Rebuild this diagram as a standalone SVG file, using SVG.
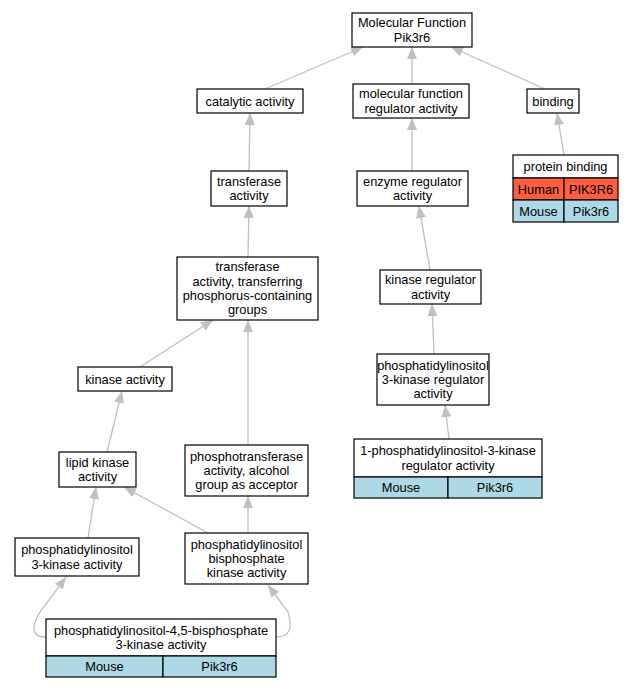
<svg xmlns="http://www.w3.org/2000/svg" width="633" height="688" viewBox="0 0 633 688">
<style>
text{font-family:"Liberation Sans",Arial,sans-serif;font-size:12.8px;text-anchor:middle;fill:#000}
.n{fill:#fff;stroke:#000;stroke-width:1.2}
.h{fill:#fe5e3f;stroke:#000;stroke-width:1.2}
.m{fill:#add8e6;stroke:#000;stroke-width:1.2}
.e{fill:none;stroke:#c0c0c0;stroke-width:1.3;marker-end:url(#a)}
</style>
<defs>
<marker id="a" markerUnits="userSpaceOnUse" markerWidth="13" markerHeight="11" refX="12" refY="5" orient="auto"><path d="M0,0 L12,5 L0,10 z" fill="#c0c0c0"/></marker>
</defs>
<rect width="633" height="688" fill="#fff"/>
<g id="edges">
<path class="e" d="M265,89 L363,47"/>
<path class="e" d="M412,84 L412,47"/>
<path class="e" d="M545,89 L451,47"/>
<path class="e" d="M249,171 L250,113"/>
<path class="e" d="M412,171 L412,118"/>
<path class="e" d="M564,155 L557,113"/>
<path class="e" d="M248,257 L249,206"/>
<path class="e" d="M430,270 L419,206"/>
<path class="e" d="M140,367 L213,320"/>
<path class="e" d="M434,354 L432,304"/>
<path class="e" d="M449,439 L445,405"/>
<path class="e" d="M107,452 L122,391"/>
<path class="e" d="M248,445 L248,320"/>
<path class="e" d="M88,538 L96,487"/>
<path class="e" d="M208,533 L124,487"/>
<path class="e" d="M248,533 L248,496"/>
<path class="e" d="M46,637 C30,637 32,625 40,612 L66,577"/>
<path class="e" d="M276,637 C292,637 292,625 288,612 L268,585"/>
</g>
<g id="mf"><rect class="n" x="352" y="13" width="120" height="34"/><text x="412" y="27.3">Molecular Function</text><text x="412" y="41.7">Pik3r6</text></g>
<g id="catalytic"><rect class="n" x="197" y="89" width="106" height="24"/><text x="250" y="105.5">catalytic activity</text></g>
<g id="mfr"><rect class="n" x="353" y="84" width="116" height="34"/><text x="411" y="98.3">molecular function</text><text x="411" y="112.7">regulator activity</text></g>
<g id="binding"><rect class="n" x="527" y="89" width="52" height="24"/><text x="553" y="105.5">binding</text></g>
<g id="transferase"><rect class="n" x="211" y="171" width="76" height="35"/><text x="249" y="185.8">transferase</text><text x="249" y="200.2">activity</text></g>
<g id="enzreg"><rect class="n" x="357" y="171" width="111" height="35"/><text x="412.5" y="185.8">enzyme regulator</text><text x="412.5" y="200.2">activity</text></g>
<g id="protbinding"><rect class="n" x="513" y="155" width="105" height="23"/><text x="565.5" y="171">protein binding</text>
<rect class="h" x="513" y="178" width="51" height="22"/><rect class="h" x="564" y="178" width="54" height="22"/><text x="538.5" y="193.5">Human</text><text x="591" y="193.5">PIK3R6</text>
<rect class="m" x="513" y="200" width="51" height="22"/><rect class="m" x="564" y="200" width="54" height="22"/><text x="538.5" y="215.5">Mouse</text><text x="591" y="215.5">Pik3r6</text></g>
<g id="transferring"><rect class="n" x="177" y="257" width="141" height="63"/><text x="247.5" y="271.2">transferase</text><text x="247.5" y="285.6">activity, transferring</text><text x="247.5" y="300">phosphorus-containing</text><text x="247.5" y="314.4">groups</text></g>
<g id="kinreg"><rect class="n" x="380" y="270" width="101" height="34"/><text x="430.5" y="284.3">kinase regulator</text><text x="430.5" y="298.7">activity</text></g>
<g id="kinase"><rect class="n" x="78" y="367" width="94" height="24"/><text x="125" y="383.5">kinase activity</text></g>
<g id="pi3kreg"><rect class="n" x="377" y="354" width="112" height="51"/><text x="433" y="369.6">phosphatidylinositol</text><text x="433" y="384">3-kinase regulator</text><text x="433" y="398.4">activity</text></g>
<g id="pi3kregtab"><rect class="n" x="354" y="439" width="188" height="38"/><text x="448" y="455.3">1-phosphatidylinositol-3-kinase</text><text x="448" y="469.7">regulator activity</text>
<rect class="m" x="354" y="477" width="94" height="21"/><rect class="m" x="448" y="477" width="94" height="21"/><text x="401" y="492">Mouse</text><text x="495" y="492">Pik3r6</text></g>
<g id="lipid"><rect class="n" x="59" y="452" width="77" height="35"/><text x="97.5" y="466.8">lipid kinase</text><text x="97.5" y="481.2">activity</text></g>
<g id="phosphotrans"><rect class="n" x="185" y="445" width="123" height="51"/><text x="246.5" y="460.6">phosphotransferase</text><text x="246.5" y="475">activity, alcohol</text><text x="246.5" y="489.4">group as acceptor</text></g>
<g id="pi3k"><rect class="n" x="15" y="538" width="124" height="38"/><text x="77" y="554.3">phosphatidylinositol</text><text x="77" y="568.7">3-kinase activity</text></g>
<g id="bisphos"><rect class="n" x="185" y="533" width="123" height="51"/><text x="246.5" y="548.6">phosphatidylinositol</text><text x="246.5" y="563">bisphosphate</text><text x="246.5" y="577.4">kinase activity</text></g>
<g id="pip2tab"><rect class="n" x="46" y="619" width="230" height="37"/><text x="161" y="634.8">phosphatidylinositol-4,5-bisphosphate</text><text x="161" y="649.2">3-kinase activity</text>
<rect class="m" x="46" y="656" width="117" height="21"/><rect class="m" x="163" y="656" width="113" height="21"/><text x="104.5" y="671">Mouse</text><text x="219.5" y="671">Pik3r6</text></g>
</svg>
